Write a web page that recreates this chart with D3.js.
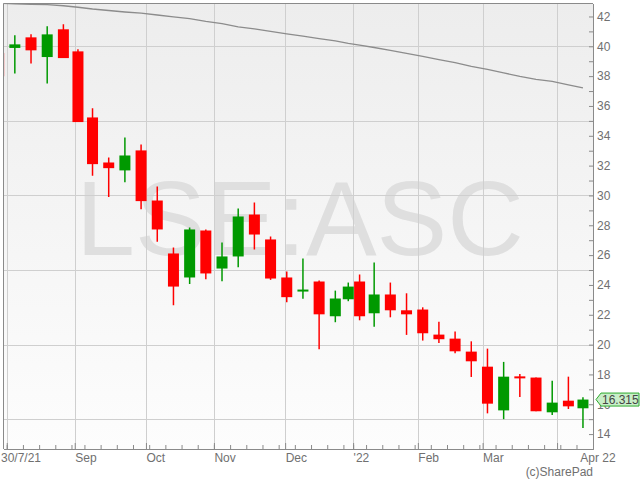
<!DOCTYPE html>
<html>
<head>
<meta charset="utf-8">
<script src="https://cdn.jsdelivr.net/npm/d3@7"></script>
<style>
  body { margin: 0; background: #fff; }
  svg { display: block; font-family: "Liberation Sans", Arial, sans-serif; }
</style>
</head>
<body>
<div id="chart"></div>
<script>
// weekly candles for LSE:ASC, week starting Mondays
const firstWeek = "2021-07-26";
const lastWeek = "2022-04-11";

const opens  = [39.55, 39.89, 40.60, 39.28, 41.14, 39.66, 35.23, 32.21, 31.68, 33.02,
                29.66, 26.11, 24.50, 27.65, 25.10, 25.91, 28.72, 27.05, 24.50, 23.58,
                24.23, 21.90, 23.04, 24.23, 22.10, 23.36, 22.30, 22.35, 20.67, 20.40,
                19.53, 18.52, 15.59, 17.87, 17.79, 15.46, 16.24, 15.73];
const highs  = [39.60, 40.74, 40.80, 41.34, 41.48, 39.80, 35.84, 32.55, 33.89, 33.42,
                30.60, 26.51, 27.85, 27.72, 26.85, 29.13, 29.53, 27.25, 24.90, 25.77,
                24.30, 23.62, 24.16, 24.70, 25.50, 24.16, 23.44, 22.50, 21.54, 20.87,
                20.22, 19.73, 18.84, 18.03, 17.79, 17.58, 17.85, 16.47];
const lows   = [37.90, 38.17, 38.84, 37.50, 39.21, 34.92, 31.32, 29.89, 30.89, 29.08,
                26.89, 22.64, 24.07, 24.38, 24.25, 25.19, 26.38, 24.34, 22.84, 23.07,
                19.68, 21.50, 22.91, 21.63, 21.19, 21.83, 20.65, 20.27, 20.11, 19.42,
                17.83, 15.39, 15.00, 16.49, 15.53, 15.28, 15.68, 14.41];
const closes = [37.99, 40.13, 39.73, 40.80, 39.21, 34.92, 32.10, 31.83, 32.68, 29.62,
                27.72, 23.89, 27.72, 24.77, 25.91, 28.59, 27.38, 24.43, 23.18, 23.69,
                22.03, 23.09, 23.89, 21.90, 23.36, 22.30, 22.03, 20.76, 20.36, 19.55,
                18.88, 16.04, 17.85, 17.74, 15.53, 16.11, 15.86, 16.315];
// moving average line
const maValues = [42.90, 42.85, 42.82, 42.79, 42.72, 42.62, 42.50, 42.40, 42.30, 42.22,
                  42.10, 41.98, 41.85, 41.67, 41.52, 41.30, 41.17, 41.00, 40.84, 40.68,
                  40.52, 40.36, 40.20, 40.08, 39.92, 39.72, 39.52, 39.32, 39.10, 38.90,
                  38.65, 38.45, 38.22, 37.98, 37.78, 37.65, 37.42, 37.21];

const holidays = ["2021-08-30", "2021-12-27", "2021-12-28", "2022-01-03", "2022-04-15", "2022-04-18"];
const monthStarts = ["2021-08-01", "2021-09-01", "2021-10-01", "2021-11-01", "2021-12-01",
                     "2022-01-01", "2022-02-01", "2022-03-01", "2022-04-01"];
const monthNames = ["", "Sep", "Oct", "Nov", "Dec", "'22", "Feb", "Mar", ""];
const startLabel = "30/7/21";
const endLabel = "Apr 22";
const yGrid = [15, 20, 25, 30, 35, 40];
const yLabels = d3.range(14, 43, 2);
const yMinor = d3.range(13, 43, 2);

const width = 640, height = 480;
const plot = { left: 3.5, top: 3.5, right: 593, bottom: 449 };

const fmt = d3.timeFormat("%Y-%m-%d");
const parse = d3.timeParse("%Y-%m-%d");

// trading days only (no weekends / UK bank holidays)
const tradingDays = d3.timeDay.range(parse(firstWeek), parse("2022-04-23"))
    .filter(d => d.getDay() > 0 && d.getDay() < 6 && !holidays.includes(fmt(d)));
const dayPos = new Map(tradingDays.map((d, i) => [fmt(d), i]));
const firstPosFrom = date => tradingDays.findIndex(d => d >= date);

const weeks = d3.timeMonday.range(parse(firstWeek), d3.timeDay.offset(parse(lastWeek), 1));
const candles = weeks.map((w, i) => {
    let next = d3.timeDay.offset(w, 7);
    let idx = tradingDays.map((d, j) => (d >= w && d < next) ? j : -1).filter(j => j >= 0);
    return {
        pos: (idx[0] + idx[idx.length - 1] + 1) / 2,
        startPos: idx[0],
        open: opens[i], high: highs[i], low: lows[i], close: closes[i], ma: maValues[i]
    };
});

const x = d3.scaleLinear()
    .domain([dayPos.get("2021-07-30"), dayPos.get("2022-04-20") + 0.1])
    .range([plot.left, plot.right]);
const y = d3.scaleLinear()
    .domain([13.0, 42.87])
    .range([plot.bottom, plot.top]);

const svg = d3.select("#chart").append("svg")
    .attr("width", width)
    .attr("height", height);

const defs = svg.append("defs");
const grad = defs.append("linearGradient").attr("id", "bg")
    .attr("x1", 0).attr("y1", 0).attr("x2", 0).attr("y2", 1);
grad.append("stop").attr("offset", "0%").attr("stop-color", "#ededed");
grad.append("stop").attr("offset", "100%").attr("stop-color", "#fdfdfd");
defs.append("clipPath").attr("id", "clip").append("rect")
    .attr("x", plot.left).attr("y", plot.top)
    .attr("width", plot.right - plot.left).attr("height", plot.bottom - plot.top);

svg.append("rect")
    .attr("x", plot.left).attr("y", plot.top)
    .attr("width", plot.right - plot.left).attr("height", plot.bottom - plot.top)
    .attr("fill", "url(#bg)");

const inner = svg.append("g").attr("clip-path", "url(#clip)");

// watermark
inner.append("text")
    .attr("x", 300).attr("y", 255)
    .attr("text-anchor", "middle")
    .attr("font-size", 106)
    .attr("fill", "#dfdfdf")
    .text("LSE:ASC");

// gridlines
const monthPos = monthStarts.map(m => firstPosFrom(parse(m)));
inner.selectAll(".hgrid").data(yGrid).join("line")
    .attr("x1", plot.left).attr("x2", plot.right)
    .attr("y1", d => Math.round(y(d)) + 0.5).attr("y2", d => Math.round(y(d)) + 0.5)
    .attr("stroke", "#cfcfcf");
inner.selectAll(".vgrid").data(monthPos).join("line")
    .attr("x1", d => Math.round(x(d)) + 0.5).attr("x2", d => Math.round(x(d)) + 0.5)
    .attr("y1", plot.top).attr("y2", plot.bottom)
    .attr("stroke", "#cfcfcf");

// moving average
inner.append("path")
    .datum(candles)
    .attr("fill", "none")
    .attr("stroke", "#8c8c8c")
    .attr("stroke-width", 1.3)
    .attr("d", d3.line().x(d => x(d.pos)).y(d => y(d.ma)));

// candles
const colour = d => d.close >= d.open ? "#009900" : "#ff0000";
const bodyW = 11;
const cg = inner.selectAll(".candle").data(candles).join("g");
cg.append("line")
    .attr("x1", d => x(d.pos)).attr("x2", d => x(d.pos))
    .attr("y1", d => y(d.high)).attr("y2", d => y(d.low))
    .attr("stroke", colour).attr("stroke-width", 1.5);
cg.append("rect")
    .attr("x", d => x(d.pos) - bodyW / 2)
    .attr("y", d => y(Math.max(d.open, d.close)))
    .attr("width", bodyW)
    .attr("height", d => Math.max(2, y(Math.min(d.open, d.close)) - y(Math.max(d.open, d.close))))
    .attr("fill", colour);

// frame
svg.append("path")
    .attr("d", `M${plot.left},${plot.bottom}V${plot.top}H${plot.right}`)
    .attr("fill", "none").attr("stroke", "#8a8a8a").attr("stroke-width", 1);

// right axis
const yAxis = svg.append("g")
    .attr("transform", `translate(${plot.right},0)`)
    .call(d3.axisRight(y).tickValues(yLabels).tickSize(-4).tickSizeOuter(0).tickPadding(4));
svg.append("g")
    .attr("transform", `translate(${plot.right},0)`)
    .call(d3.axisRight(y).tickValues(yMinor).tickSize(-4).tickSizeOuter(0).tickFormat(""));

// bottom axis
const weekPos = candles.map(d => d.startPos).filter(p => x(p) >= plot.left);
svg.append("g")
    .attr("transform", `translate(0,${plot.bottom})`)
    .call(d3.axisBottom(x).tickValues(weekPos).tickSize(-4).tickSizeOuter(0).tickFormat(""));
svg.append("g")
    .attr("transform", `translate(0,${plot.bottom})`)
    .call(d3.axisBottom(x).tickValues(monthPos).tickSize(-6).tickSizeOuter(0).tickFormat(""));

svg.selectAll(".domain, .tick line").attr("stroke", "#8a8a8a");
svg.selectAll(".tick text").attr("fill", "#707070").attr("font-size", 12)
    .attr("font-family", "Liberation Sans, Arial, sans-serif");

const labels = svg.append("g").attr("fill", "#707070").attr("font-size", 12);
labels.selectAll(".mlab").data(monthPos.map((p, i) => ({ p, name: monthNames[i] })).filter(d => d.name))
    .join("text")
    .attr("x", d => x(d.p) + 0.5)
    .attr("y", 462)
    .text(d => d.name);
labels.append("text").attr("x", 1).attr("y", 462).text(startLabel);
labels.append("text").attr("x", 598).attr("y", 462).attr("text-anchor", "middle").text(endLabel);
labels.append("text").attr("x", plot.right).attr("y", 476).attr("text-anchor", "end").text("(c)SharePad");

// last price tag
const last = candles[candles.length - 1];
const ly = y(last.close);
svg.append("path")
    .attr("d", `M596,${ly}L601,${ly - 6.5}H639V${ly + 6.5}H601Z`)
    .attr("fill", "#c8eec8").attr("stroke", "#2faa2f").attr("stroke-width", 1);
svg.append("text")
    .attr("x", 602).attr("y", ly + 4.5)
    .attr("font-size", 12).attr("fill", "#444")
    .text(d3.format(".3f")(last.close));
</script>
</body>
</html>
